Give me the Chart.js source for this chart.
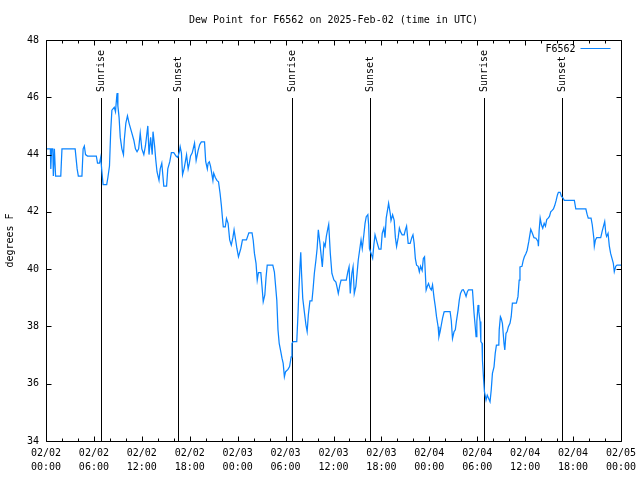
<!DOCTYPE html>
<html>
<head>
<meta charset="utf-8">
<title>Dew Point for F6562</title>
<script src="https://cdn.jsdelivr.net/npm/chart.js@4.4.1/dist/chart.umd.min.js"></script>
<style>
  html, body { margin: 0; padding: 0; background: #fff; }
  #wrap { width: 640px; height: 480px; }
</style>
</head>
<body>
<div id="wrap"><canvas id="dewChart" width="640" height="480"></canvas></div>
<script>
// hours since 2025-02-02 00:00 UTC
const hours = [
  0, 0.55, 0.6, 0.7, 0.85, 0.92, 1.05, 1.2, 1.85, 2.0, 3.65, 3.9, 4.05, 4.5, 4.65, 4.8, 4.95, 5.2,
  6.3, 6.45, 6.7, 6.85, 7.0, 7.15, 7.6, 7.75, 7.95, 8.1, 8.25, 8.55, 8.7, 8.85, 8.9, 9.0, 9.15, 9.3,
  9.5, 9.7, 9.8, 10.0, 10.2, 10.4, 10.7, 11.0, 11.2, 11.4, 11.6, 11.8, 12.0, 12.25, 12.45, 12.75,
  12.9, 13.1, 13.3, 13.4, 13.6, 13.75, 13.9, 14.15, 14.3, 14.5, 14.75, 15.1, 15.25, 15.5, 15.7,
  16.0, 16.3, 16.5, 16.7, 16.8, 16.96, 17.1, 17.3, 17.45, 17.6, 17.8, 17.95, 18.1, 18.3, 18.45,
  18.6, 18.8, 19.05, 19.25, 19.45, 19.85, 20.0, 20.2, 20.3, 20.45, 20.6, 20.9, 21.0, 21.2, 21.4,
  21.6, 21.8, 21.96, 22.1, 22.2, 22.45, 22.6, 22.8, 23.0, 23.2, 23.4, 23.55, 23.7, 23.9, 24.1,
  24.4, 24.6, 25.1, 25.4, 25.8, 25.95, 26.1, 26.3, 26.45, 26.6, 26.9, 27.05, 27.2, 27.4, 27.55,
  27.7, 28.4, 28.6, 28.9, 29.05, 29.2, 29.4, 29.55, 29.7, 29.85, 30.0, 30.3, 30.5, 30.7, 30.8,
  30.95, 31.4, 31.55, 31.65, 31.8, 31.9, 32.0, 32.15, 32.35, 32.55, 32.7, 32.85, 33.05, 33.3,
  33.45, 33.6, 33.8, 33.95, 34.1, 34.3, 34.45, 34.6, 34.8, 34.95, 35.1, 35.3, 35.4, 35.6, 35.8,
  36.05, 36.3, 36.45, 36.6, 36.8, 36.95, 37.6, 37.8, 37.95, 38.1, 38.3, 38.45, 38.6, 38.8, 38.95,
  39.1, 39.3, 39.45, 39.6, 39.8, 39.95, 40.1, 40.3, 40.4, 40.5, 40.7, 40.9, 41.05, 41.2, 41.55,
  41.7, 41.95, 42.1, 42.3, 42.45, 42.6, 42.8, 42.9, 43.1, 43.2, 43.4, 43.6, 43.75, 43.9, 44.1,
  44.25, 44.4, 44.6, 44.85, 45.0, 45.15, 45.35, 45.6, 45.8, 45.95, 46.1, 46.25, 46.4, 46.6, 46.75,
  46.9, 47.1, 47.25, 47.4, 47.5, 47.6, 47.75, 47.9, 48.1, 48.25, 48.4, 48.6, 48.75, 48.9, 49.1,
  49.2, 49.35, 49.5, 49.65, 49.85, 50.0, 50.6, 50.75, 50.9, 51.1, 51.25, 51.4, 51.6, 51.75, 51.9,
  52.1, 52.25, 52.4, 52.6, 52.75, 52.9, 53.4, 53.6, 53.75, 53.85, 53.95, 54.1, 54.2, 54.35, 54.45,
  54.6, 54.65, 54.8, 54.9, 55.1, 55.25, 55.4, 55.6, 55.75, 55.9, 56.1, 56.25, 56.4, 56.7, 56.75,
  56.9, 57.0, 57.15, 57.35, 57.45, 57.6, 57.75, 57.9, 58.1, 58.25, 58.4, 58.9, 59.1, 59.25, 59.35,
  59.6, 59.75, 59.9, 60.1, 60.25, 60.45, 60.7, 60.9, 61.1, 61.35, 61.6, 61.66, 61.75, 61.88, 62.04,
  62.2, 62.38, 62.54, 62.7, 62.88, 63.04, 63.2, 63.38, 63.54, 63.7, 63.88, 64.04, 64.16, 64.38,
  64.54, 64.7, 64.9, 66.16, 66.34, 67.6, 67.75, 67.9, 68.25, 68.4, 68.6, 68.66, 68.8, 68.96, 69.46,
  69.63, 69.8, 69.96, 70.1, 70.2, 70.38, 70.54, 70.7, 70.88, 71.04, 71.16, 71.34, 71.5, 72.0
];

// dew point, degrees F
const dewPoint = [
  44.2, 44.2, 43.5, 44.2, 44.2, 43.25, 44.2, 43.25, 43.25, 44.2, 44.2, 43.5, 43.25, 43.25, 44.2, 44.3, 44.0, 43.95,
  43.95, 43.7, 43.7, 43.9, 43.4, 42.95, 42.95, 43.2, 43.6, 44.8, 45.55, 45.65, 45.5, 46.0, 46.15, 45.7, 45.3, 44.6,
  44.2, 44.0, 44.5, 45.1, 45.35, 45.1, 44.8, 44.5, 44.2, 44.1, 44.2, 44.75, 44.2, 44.0, 44.3, 45.0,
  44.0, 44.6, 44.0, 44.8, 44.3, 43.8, 43.4, 43.1, 43.5, 43.7, 42.9, 42.9, 43.5, 43.75, 44.07,
  44.07, 43.94, 43.9, 44.1, 44.27, 44.05, 43.3, 43.52, 43.75, 43.99, 43.5, 43.7, 43.95, 44.05, 44.22,
  44.4, 43.8, 44.15, 44.35, 44.44, 44.44, 43.75, 43.5, 43.7, 43.75, 43.6, 43.1, 43.35, 43.2, 43.1,
  43.05, 42.64, 42.22, 41.77, 41.48, 41.48, 41.77, 41.6, 41.02, 40.84, 41.1, 41.37, 41.1, 40.73, 40.43,
  40.73, 41.02, 41.02, 41.27, 41.27, 41.0, 40.55, 40.2, 39.62, 39.88, 39.88, 39.39, 38.86, 39.1, 39.7,
  40.14, 40.14, 39.9, 38.92, 37.88, 37.41, 37.12, 36.89, 36.71, 36.24, 36.42, 36.5, 36.6, 36.94, 37.41,
  37.47, 37.47, 38.4, 39.15, 40.08, 40.59, 39.85, 38.98, 38.51, 38.05, 37.82, 38.4, 38.89, 38.89,
  39.33, 39.85, 40.32, 40.72, 41.37, 40.9, 40.49, 40.08, 40.9, 40.8, 41.14, 41.43, 41.56, 40.55, 39.85,
  39.62, 39.55, 39.36, 39.15, 39.45, 39.62, 39.62, 39.91, 40.08, 39.15, 39.85, 40.08, 39.15, 39.4, 39.85,
  40.32, 40.72, 41.02, 40.72, 41.2, 41.6, 41.83, 41.9, 41.54, 40.72, 40.55, 40.38, 40.84, 41.2, 40.84,
  40.7, 40.7, 41.25, 41.43, 41.1, 41.78, 42.12, 42.3, 41.95, 41.7, 41.9, 41.7, 41.1, 40.79, 41.1,
  41.43, 41.3, 41.2, 41.2, 41.37, 41.5, 40.9, 40.9, 41.1, 41.2, 40.9, 40.37, 40.14, 40.1, 39.91,
  40.1, 39.95, 40.37, 40.43, 39.85, 39.27, 39.4, 39.5, 39.33, 39.27, 39.45, 38.98, 38.69, 38.34, 37.99,
  37.64, 37.82, 38.05, 38.28, 38.51, 38.52, 38.52, 38.2, 37.58, 37.82, 37.88, 38.2, 38.57, 38.92, 39.15,
  39.27, 39.28, 39.2, 39.05, 39.2, 39.28, 39.28, 38.46, 37.99, 37.64, 38.17, 38.75, 38.51, 38.17, 37.47,
  37.41, 36.83, 36.13, 35.72, 35.43, 35.6, 35.5, 35.37, 35.78, 36.36, 36.59, 37.06, 37.35, 37.35, 37.88,
  38.34, 38.28, 38.11, 37.41, 37.18, 37.76, 37.82, 37.99, 38.11, 38.34, 38.81, 38.81, 39.04, 39.62, 40.08,
  40.1, 40.3, 40.43, 40.55, 40.66, 40.96, 41.39, 41.25, 41.1, 41.08, 40.97, 40.8, 41.35, 41.78, 41.55,
  41.43, 41.6, 41.5, 41.73, 41.78, 41.84, 42.0, 42.05, 42.1, 42.22, 42.4, 42.59, 42.68, 42.68,
  42.54, 42.5, 42.4, 42.4, 42.1, 42.1, 41.92, 41.78, 41.78, 41.55, 41.08, 40.8, 41.02, 41.1, 41.1,
  41.31, 41.49, 41.66, 41.25, 41.14, 41.25, 40.8, 40.55, 40.37, 40.2, 39.91, 40.1, 40.14, 40.14
];

// sunrise / sunset markers (hours since start)
const sunHours = [6.85, 16.5, 30.78, 40.6, 54.85, 64.62];
const sunLabels = ['Sunrise', 'Sunset', 'Sunrise', 'Sunset', 'Sunrise', 'Sunset'];

// axis ranges
const xMin = 0, xMax = 72, xStep = 6, xMinorStep = 2;
const yMin = 34, yMax = 48, yStep = 2;
const dayLabels = ['02/02', '02/03', '02/04', '02/05'];

const FONT = 'DejaVu Sans Mono';
const LINE_COLOR = '#0a84ff';

// gnuplot-like frame, inward ticks, sun lines and legend
const gnuplotDecor = {
  id: 'gnuplotDecor',
  beforeDatasetsDraw(chart) {
    const { ctx, chartArea: a, scales: { x } } = chart;
    ctx.save();
    ctx.strokeStyle = '#000';
    ctx.lineWidth = 1;
    ctx.fillStyle = '#000';
    ctx.font = '10px "' + FONT + '"';
    sunHours.forEach((h, i) => {
      const px = Math.round(x.getPixelForValue(h)) + 0.5;
      ctx.beginPath();
      ctx.moveTo(px, a.top + 58);
      ctx.lineTo(px, a.bottom);
      ctx.stroke();
      ctx.save();
      ctx.translate(px, a.top + 52);
      ctx.rotate(-Math.PI / 2);
      ctx.textAlign = 'left';
      ctx.textBaseline = 'middle';
      ctx.fillText(sunLabels[i], 0, 0);
      ctx.restore();
    });
    ctx.restore();
  },
  afterDatasetsDraw(chart) {
    const { ctx, chartArea: a, scales: { x, y } } = chart;
    ctx.save();
    ctx.strokeStyle = '#000';
    ctx.lineWidth = 1;
    ctx.beginPath();
    const L = Math.round(a.left) + 0.5, R = Math.round(a.right) + 0.5;
    const T = Math.round(a.top) + 0.5, B = Math.round(a.bottom) + 0.5;
    ctx.rect(L, T, R - L, B - T);
    for (let h = xMin; h <= xMax; h += xMinorStep) {
      const px = Math.round(x.getPixelForValue(h)) + 0.5;
      const len = h % xStep === 0 ? 5 : 3;
      ctx.moveTo(px, B); ctx.lineTo(px, B - len);
      ctx.moveTo(px, T); ctx.lineTo(px, T + len);
    }
    for (let v = yMin; v <= yMax; v += yStep) {
      const py = Math.round(y.getPixelForValue(v)) + 0.5;
      ctx.moveTo(L, py); ctx.lineTo(L + 5, py);
      ctx.moveTo(R, py); ctx.lineTo(R - 5, py);
    }
    ctx.stroke();

    // legend, top right
    ctx.fillStyle = '#000';
    ctx.font = '10px "' + FONT + '"';
    ctx.textAlign = 'right';
    ctx.textBaseline = 'middle';
    ctx.fillText(chart.data.datasets[0].label, R - 46, T + 9);
    ctx.strokeStyle = LINE_COLOR;
    ctx.beginPath();
    ctx.moveTo(R - 41, T + 8);
    ctx.lineTo(R - 11, T + 8);
    ctx.stroke();
    ctx.restore();
  }
};

new Chart(document.getElementById('dewChart'), {
  type: 'line',
  data: {
    datasets: [{
      label: 'F6562',
      data: hours.map((h, i) => ({ x: h, y: dewPoint[i] })),
      borderColor: LINE_COLOR,
      borderWidth: 1.25,
      pointRadius: 0,
      tension: 0,
      fill: false
    }]
  },
  options: {
    responsive: false,
    animation: false,
    layout: { padding: { left: 0, right: 19, top: 0, bottom: 0 } },
    plugins: {
      legend: { display: false },
      tooltip: { enabled: false },
      title: {
        display: true,
        fullSize: false,
        text: 'Dew Point for F6562 on 2025-Feb-02 (time in UTC)',
        color: '#000',
        font: { family: FONT, size: 10, weight: 'normal' },
        padding: { top: 14, bottom: 14 }
      }
    },
    scales: {
      x: {
        type: 'linear',
        min: xMin,
        max: xMax,
        grid: { display: false, drawTicks: false },
        border: { display: false },
        afterFit(scale) {
          scale.height = 39;
          scale.paddingLeft = 0;
          scale.paddingRight = 0;
        },
        ticks: {
          stepSize: xStep,
          autoSkip: false,
          maxRotation: 0,
          padding: 6,
          color: '#000',
          font: { family: FONT, size: 10, lineHeight: 1.35 },
          callback(v) {
            const day = dayLabels[Math.floor(v / 24)];
            const hh = String(v % 24).padStart(2, '0');
            return [day, hh + ':00'];
          }
        }
      },
      y: {
        min: yMin,
        max: yMax,
        grid: { display: false, drawTicks: false },
        border: { display: false },
        afterFit(scale) { scale.width = 46; },
        title: {
          display: true,
          text: 'degrees F',
          color: '#000',
          font: { family: FONT, size: 10 },
          padding: { top: 4, bottom: 0 }
        },
        ticks: {
          stepSize: yStep,
          padding: 7,
          color: '#000',
          font: { family: FONT, size: 10 }
        }
      }
    }
  },
  plugins: [gnuplotDecor]
});
</script>
</body>
</html>
